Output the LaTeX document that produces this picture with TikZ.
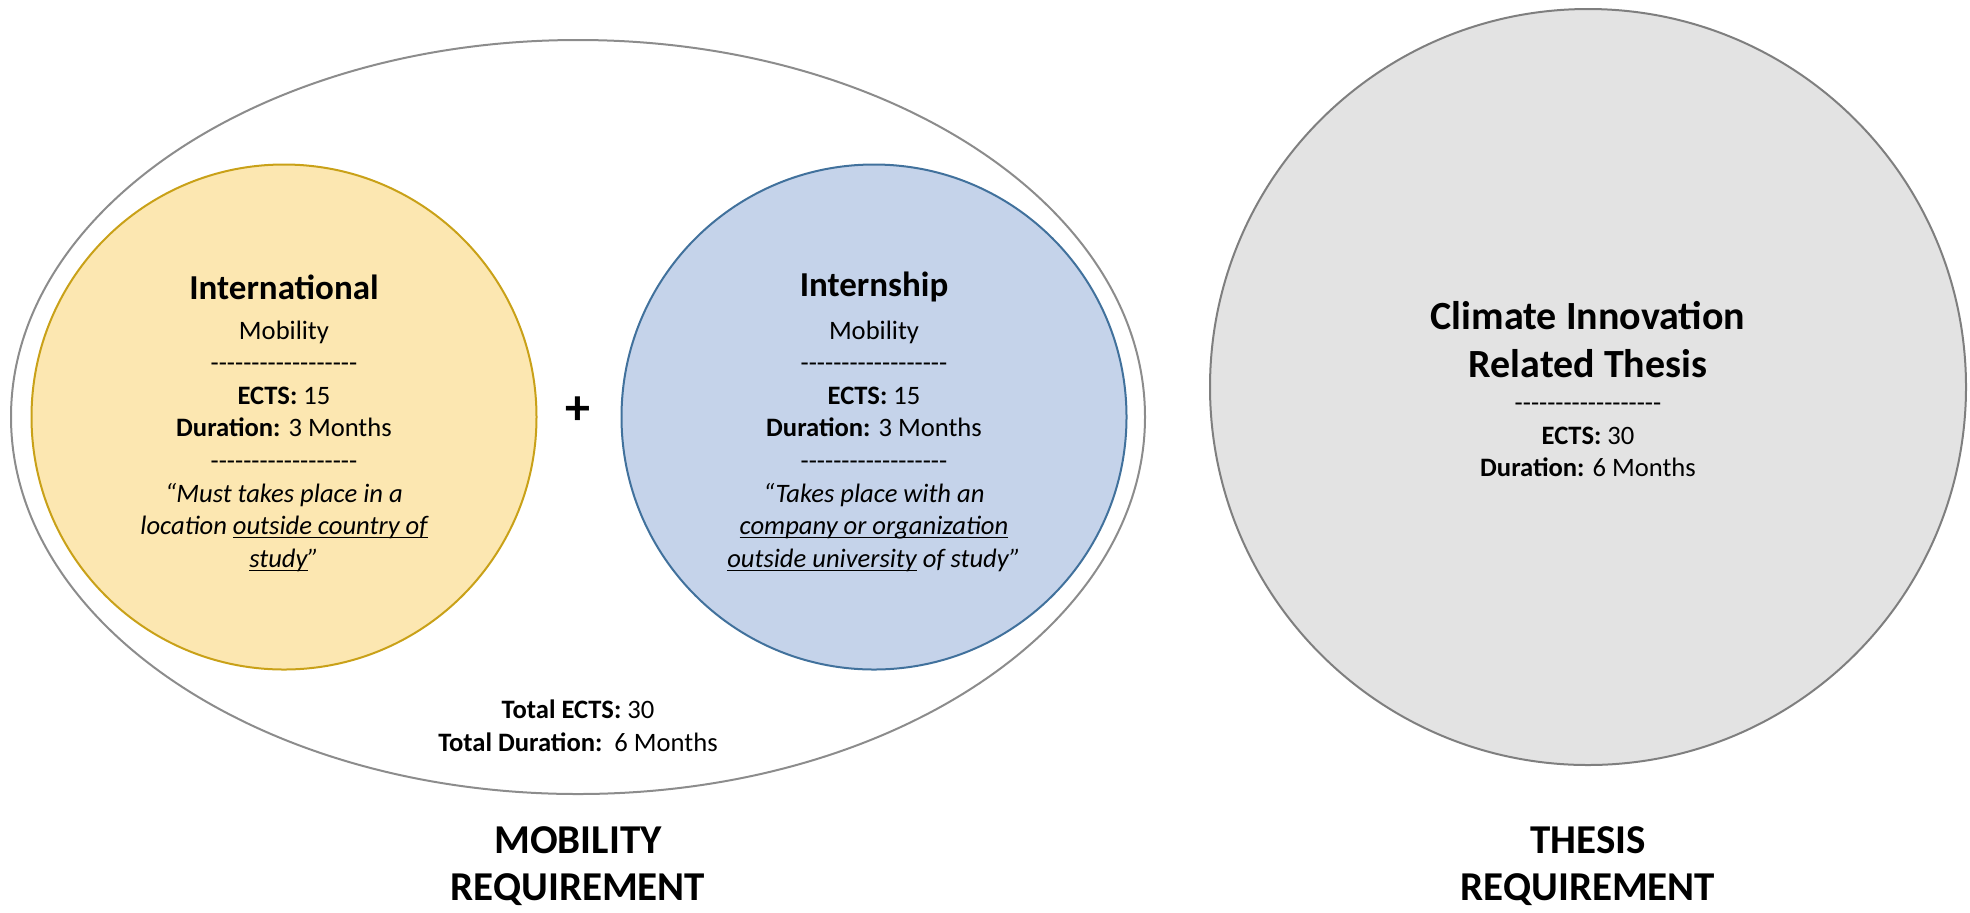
\documentclass[tikz,border=0pt]{standalone}
\usepackage{fontspec}
\setmainfont{Carlito}
\usetikzlibrary{shapes.geometric,positioning}
\definecolor{intlfill}{HTML}{FCE7B1}
\definecolor{intldraw}{HTML}{C9A118}
\definecolor{ternfill}{HTML}{C5D3EA}
\definecolor{terndraw}{HTML}{41719C}
\definecolor{thesfill}{HTML}{E3E3E3}
\definecolor{thesdraw}{HTML}{7F7F7F}
\definecolor{outerdraw}{HTML}{8C8C8C}
\newcommand{\dashline}{\foreach \i in {1,...,18}{-}}
\newcommand{\uln}[1]{\underline{\smash{#1}}}
\tikzset{%
  ring/.style     = {shape=circle, draw, line width=1pt, inner sep=0pt,%
                     minimum size=252.5pt},%
  outer/.style    = {shape=ellipse, draw=outerdraw, line width=1pt,%
                     inner sep=0pt, minimum width=567pt, minimum height=377pt},%
  body/.style     = {align=center, font=\fontsize{13.3}{16.3}\selectfont},%
  head/.style     = {align=center, font=\fontsize{17.5}{20}\selectfont\bfseries},%
  big/.style      = {align=center, font=\fontsize{20}{24}\selectfont\bfseries},%
  caption/.style  = {align=center, font=\fontsize{20.5}{23.5}\selectfont\bfseries}%
}
\begin{document}
\begin{tikzpicture}[x=0.5pt,y=-0.5pt]%
	\useasboundingbox (0,0) rectangle (1970,912);%
	% mobility requirement
	\node [outer] (mobility) at (578,417) {};%
	\node [ring,fill=intlfill,draw=intldraw] (intl) at (284,417) {};%
	\node [ring,fill=ternfill,draw=terndraw] (intern) at (874,417) {};%
	\node [head] (intlhead) at (284,287) {International};%
	\node [body] (intlbody) at (284,446) {Mobility\\ \dashline\\%
		\textbf{ECTS:} 15\\ \textbf{Duration:} 3 Months\\ \dashline\\%
		{\itshape ``Must takes place in a}\\%
		{\itshape location \uln{outside country of}}\\%
		{\itshape \uln{study}''}};%
	\node [head] (ternhead) at (874,287) {Internship};%
	\node [body] (ternbody) at (874,446) {Mobility\\ \dashline\\%
		\textbf{ECTS:} 15\\ \textbf{Duration:} 3 Months\\ \dashline\\%
		{\itshape ``Takes place with an}\\%
		{\itshape \uln{company or organization}}\\%
		{\itshape \uln{outside university} of study''}};%
	\node [font=\fontsize{25}{25}\selectfont\bfseries] (plus) at (578,411) {+};%
	\node [body] (total) at (578,726) {\textbf{Total ECTS:} 30\\%
		\textbf{Total Duration:}\ \ 6 Months};%
	\node [caption] (mobcap) at (578,866) {MOBILITY\\ REQUIREMENT};%
	% thesis requirement
	\node [ring,fill=thesfill,draw=thesdraw,minimum size=378pt] (thesis) at (1588,387) {};%
	\node [big] (theshead) at (1588,340) {Climate Innovation\\ Related Thesis};%
	\node [body] (thesbody) at (1588,440) {\dashline\\%
		\textbf{ECTS:} 30\\ \textbf{Duration:} 6 Months};%
	\node [caption] (thescap) at (1588,866) {THESIS\\ REQUIREMENT};%
\end{tikzpicture}
\end{document}
